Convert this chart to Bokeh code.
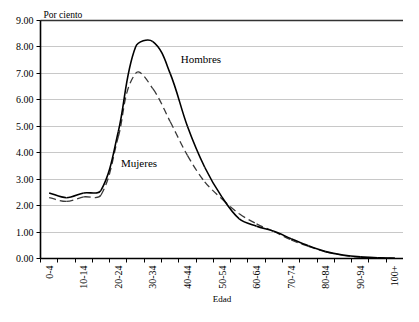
import numpy as np
from bokeh.plotting import figure
from bokeh.models import (FixedTicker, NumeralTickFormatter, Range1d, LinearAxis,
                          Label, ColumnDataSource)
from bokeh.embed import file_html
from bokeh.resources import INLINE

categories = ["0-4", "5-9", "10-14", "15-19", "20-24", "25-29", "30-34", "35-39",
              "40-44", "45-49", "50-54", "55-59", "60-64", "65-69", "70-74",
              "75-79", "80-84", "85-89", "90-94", "95-99", "100+"]
hombres = [2.48, 2.30, 2.48, 2.58, 4.80, 8.00, 8.20, 7.00, 5.00, 3.45, 2.32,
           1.50, 1.22, 1.03, 0.75, 0.48, 0.26, 0.13, 0.06, 0.03, 0.01]
mujeres = [2.30, 2.16, 2.33, 2.40, 4.60, 7.00, 6.42, 5.18, 3.90, 2.90, 2.25,
           1.69, 1.31, 1.02, 0.70, 0.46, 0.25, 0.12, 0.05, 0.02, 0.01]
y_ticks = [0, 1, 2, 3, 4, 5, 6, 7, 8, 9]

SERIF = "Liberation Serif"

W, H = 403, 306
LEFT, TOP, FRAME_H = 40, 20, 240
n = len(categories)
xs = np.arange(n, dtype=float)

p = figure(width=W, height=H, output_backend="svg", toolbar_location=None,
           x_range=Range1d(-0.5, n - 0.5), y_range=Range1d(0, 9),
           min_border_left=LEFT, min_border_right=0, min_border_top=TOP,
           min_border_bottom=H - TOP - FRAME_H)
p.outline_line_color = None
p.background_fill_color = "white"
p.border_fill_color = "white"

# pixel scale used only to shape the smoothing (Excel-like smoothed line)
SX = (W - LEFT) / n
SY = FRAME_H / 9.0


def smooth_source(ys):
    ys = np.asarray(ys, dtype=float)
    P = np.stack([xs * SX, ys * SY], axis=1)
    tang = np.zeros_like(P)
    for i in range(n):
        a = P[max(i - 1, 0)]
        b = P[min(i + 1, n - 1)]
        d = b - a
        tang[i] = d / np.linalg.norm(d)
    cols = {k: [] for k in ("x0", "y0", "x1", "y1", "cx0", "cy0", "cx1", "cy1")}
    for i in range(n - 1):
        L = np.linalg.norm(P[i + 1] - P[i])
        c0 = P[i] + tang[i] * L / 3.0
        c1 = P[i + 1] - tang[i + 1] * L / 3.0
        cols["x0"].append(xs[i]); cols["y0"].append(ys[i])
        cols["x1"].append(xs[i + 1]); cols["y1"].append(ys[i + 1])
        cols["cx0"].append(c0[0] / SX); cols["cy0"].append(c0[1] / SY)
        cols["cx1"].append(c1[0] / SX); cols["cy1"].append(c1[1] / SY)
    return ColumnDataSource(cols)


p.bezier(x0="x0", y0="y0", x1="x1", y1="y1", cx0="cx0", cy0="cy0",
         cx1="cx1", cy1="cy1", source=smooth_source(mujeres),
         line_color="#3a3a3a", line_width=1.3, line_dash="7 4")
p.bezier(x0="x0", y0="y0", x1="x1", y1="y1", cx0="cx0", cy0="cy0",
         cx1="cx1", cy1="cy1", source=smooth_source(hombres),
         line_color="black", line_width=1.6)

# grid
p.xgrid.visible = False
p.ygrid.ticker = FixedTicker(ticks=y_ticks)
p.ygrid.grid_line_color = "#c8c8c8"
p.ygrid.grid_line_width = 1

# y axis
ya = p.yaxis[0]
ya.ticker = FixedTicker(ticks=y_ticks)
ya.formatter = NumeralTickFormatter(format="0.00")
ya.axis_line_color = "black"
ya.axis_line_width = 1.6
ya.major_tick_out = 4
ya.major_tick_in = 0
ya.major_tick_line_color = "black"
ya.minor_tick_line_color = None
ya.major_label_text_font = SERIF
ya.major_label_text_font_size = "10px"
ya.major_label_text_color = "black"
ya.major_label_standoff = 3

# x axis
xa = p.xaxis[0]
label_pos = list(range(0, n, 2))
bounds = [i - 0.5 for i in range(n + 1)]
xa.ticker = FixedTicker(ticks=label_pos, minor_ticks=bounds)
xa.major_label_overrides = {i: categories[i] for i in label_pos}
xa.major_label_orientation = np.pi / 2
xa.major_tick_line_color = None
xa.major_tick_out = 0
xa.major_tick_in = 0
xa.minor_tick_out = 4
xa.minor_tick_in = 0
xa.minor_tick_line_color = "black"
xa.axis_line_color = "black"
xa.axis_line_width = 1.6
xa.major_label_text_font = SERIF
xa.major_label_text_font_size = "10px"
xa.major_label_text_color = "black"
xa.major_label_standoff = 3
xa.axis_label = "Edad"
xa.axis_label_text_font = SERIF
xa.axis_label_text_font_size = "9px"
xa.axis_label_text_font_style = "normal"
xa.axis_label_text_color = "black"
xa.axis_label_standoff = 2

# top line
top = LinearAxis(ticker=FixedTicker(ticks=[]), axis_line_color="#333333",
                 axis_line_width=1.6, major_label_text_font_size="0px",
                 major_tick_line_color=None, minor_tick_line_color=None,
                 major_label_standoff=0)
p.add_layout(top, "above")

p.title.text = "Por ciento"
p.title.align = "left"
p.title.offset = 3
p.title.standoff = 1
p.title.text_font = SERIF
p.title.text_font_size = "9.5px"
p.title.text_font_style = "normal"
p.title.text_color = "black"

p.add_layout(Label(x=8.78, y=7.53, text="Hombres", text_font=SERIF,
                   text_font_size="11px", text_color="black",
                   text_align="center", text_baseline="middle"))
p.add_layout(Label(x=5.2, y=3.63, text="Mujeres", text_font=SERIF,
                   text_font_size="11px", text_color="black",
                   text_align="center", text_baseline="middle"))

open("out.html", "w").write(file_html(p, INLINE))
